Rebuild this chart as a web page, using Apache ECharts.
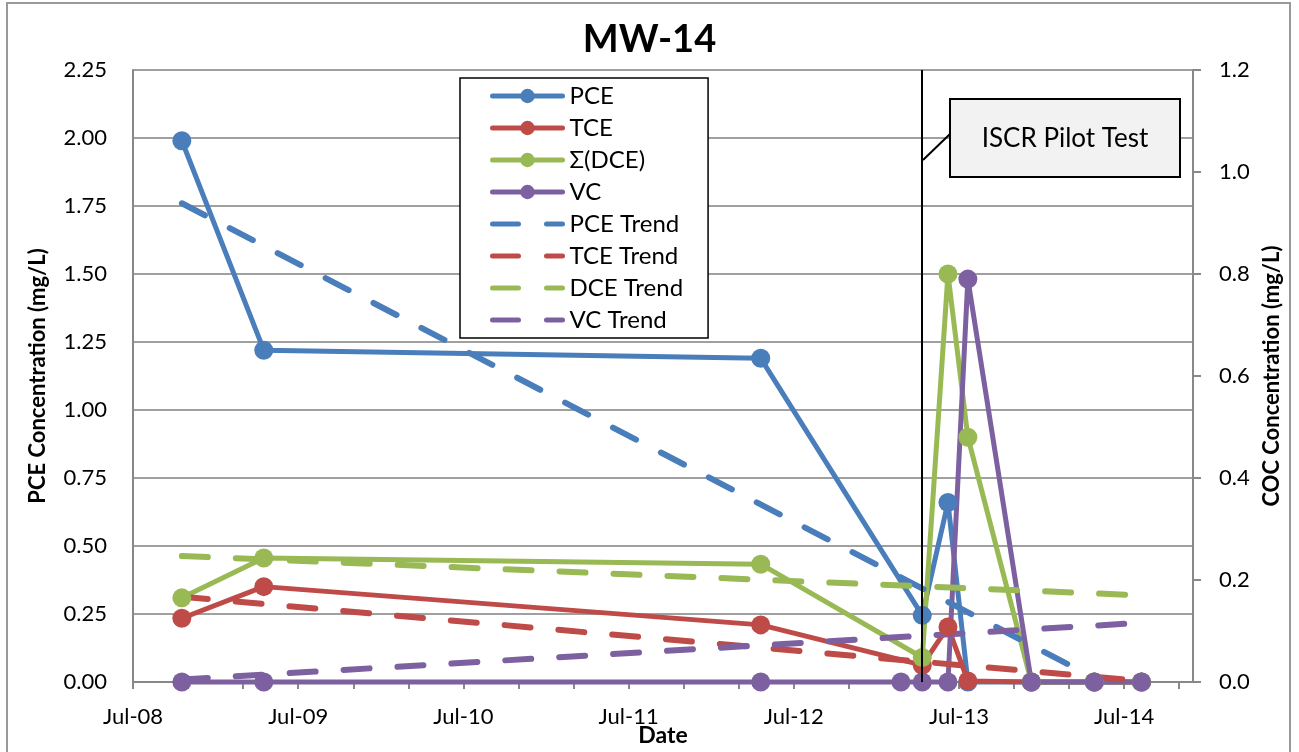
<!DOCTYPE html>
<html>
<head>
<meta charset="utf-8">
<title>MW-14</title>
<script src="https://cdn.jsdelivr.net/npm/echarts@6/dist/echarts.min.js"></script>
<style>
  html, body { margin: 0; padding: 0; background: #fff; }
  #chart { width: 1299px; height: 752px; }
</style>
</head>
<body>
<div id="chart"></div>
<script>
// sampling dates
const sampleDates = ['2008-10-18', '2009-04-16', '2012-04-19', '2013-02-23', '2013-04-11',
  '2013-06-07', '2013-07-21', '2013-12-09', '2014-04-26', '2014-08-09']

// concentrations in mg/L, null = not sampled
const pce = [1.99, 1.22, 1.19, null, 0.245, 0.66, 0, 0, 0, 0]
const tce = [0.125, 0.187, 0.112, null, 0.033, 0.108, 0.002, 0, 0, 0]
const dce = [0.165, 0.243, 0.231, null, 0.048, 0.80, 0.48, 0, 0, 0]
const vc = [0, 0, 0, 0, 0, 0, 0.79, 0, 0, 0]

const trendDates = ['2008-10-18', '2014-08-09']
const pceTrendDates = ['2008-10-18', '2014-05-13']
const pceTrend = [1.76, 0]
const tceTrend = [0.167, 0.002]
const dceTrend = [0.247, 0.17]
const vcTrend = [0.005, 0.116]

const pilotTestDate = '2013-04-11'

// x axis runs Jul-08 .. Dec-14, in months
const xTickLabels = ['Jul-08', 'Jul-09', 'Jul-10', 'Jul-11', 'Jul-12', 'Jul-13', 'Jul-14']
const xMax = 77

const colors = {
  pce: '#4a7ebb',
  tce: '#be4b48',
  dce: '#98b954',
  vc: '#7d60a0'
}
const font = 'Lato'

const toMonths = (s) => {
  const [y, m, d] = s.split('-').map(Number)
  const dim = new Date(Date.UTC(y, m, 0)).getUTCDate()
  return (y - 2008) * 12 + (m - 7) + (d - 1) / dim
}

const pairs = (dates, vals) => dates
  .map((d, i) => [toMonths(d), vals[i]])
  .filter(p => p[1] !== null)

const solid = (name, vals, color, yAxisIndex) => ({
  name,
  type: 'line',
  yAxisIndex,
  data: pairs(sampleDates, vals),
  symbol: 'circle',
  symbolSize: 19,
  clip: false,
  lineStyle: { width: 5, color },
  itemStyle: { color }
})

const trend = (name, dates, vals, color, yAxisIndex) => ({
  name,
  type: 'line',
  yAxisIndex,
  data: pairs(dates, vals),
  symbol: 'none',
  lineStyle: { width: 6, color, type: [26, 28], cap: 'round' },
  itemStyle: { color }
})

const chart = echarts.init(document.getElementById('chart'))

const series = [
  solid('PCE', pce, colors.pce, 0),
  solid('TCE', tce, colors.tce, 1),
  solid('Σ(DCE)', dce, colors.dce, 1),
  solid('VC', vc, colors.vc, 1),
  trend('PCE Trend', pceTrendDates, pceTrend, colors.pce, 0),
  trend('TCE Trend', trendDates, tceTrend, colors.tce, 1),
  trend('DCE Trend', trendDates, dceTrend, colors.dce, 1),
  trend('VC Trend', trendDates, vcTrend, colors.vc, 1)
]

// pilot test start line
series[0].markLine = {
  silent: true,
  symbol: ['none', 'none'],
  label: { show: false },
  lineStyle: { color: '#000', width: 2, type: 'solid' },
  data: [{ xAxis: toMonths(pilotTestDate) }]
}

const legendNames = series.map(s => s.name)

const option = {
  animation: false,
  textStyle: { fontFamily: font },
  title: {
    text: 'MW-14',
    left: 'center',
    top: 16,
    textStyle: { fontFamily: font, fontSize: 38, fontWeight: 'bold', color: '#000' }
  },
  grid: { left: 133, right: 106, top: 70, bottom: 70, outerBoundsMode: 'none' },
  legend: {
    orient: 'vertical',
    left: 460,
    top: 78,
    padding: [6, 25, 6, 30],
    itemWidth: 70,
    itemHeight: 18,
    itemGap: 8,
    borderColor: '#000',
    borderWidth: 1.5,
    backgroundColor: '#fff',
    lineStyle: { width: 5, cap: 'round' },
    textStyle: { fontFamily: font, fontSize: 24, color: '#000', padding: [0, 0, 0, 2] },
    data: legendNames.map((n, i) => i < 4 ? n : { name: n, itemStyle: { opacity: 0 } })
  },
  xAxis: {
    type: 'value',
    min: 0,
    max: xMax,
    interval: 4,
    name: 'Date',
    nameLocation: 'middle',
    nameGap: 42,
    nameMoveOverlap: false,
    nameTextStyle: { fontFamily: font, fontSize: 23, fontWeight: 'bold', color: '#000' },
    axisLine: { lineStyle: { color: '#888', width: 2 } },
    axisTick: { show: true, length: 7, lineStyle: { color: '#888', width: 2 } },
    splitLine: { show: false },
    axisLabel: {
      margin: 24,
      fontFamily: font,
      fontSize: 22,
      color: '#000',
      showMaxLabel: false,
      formatter: v => (v % 12 === 0 ? xTickLabels[v / 12] : '')
    }
  },
  yAxis: [
    {
      type: 'value',
      position: 'left',
      min: 0,
      max: 2.25,
      interval: 0.25,
      name: 'PCE Concentration (mg/L)',
      nameLocation: 'middle',
      nameGap: 84,
      nameTextStyle: { fontFamily: font, fontSize: 22, fontWeight: 'bold', color: '#000' },
      axisLine: { show: true, lineStyle: { color: '#888', width: 2 } },
      axisTick: { show: false },
      splitLine: { lineStyle: { color: '#a0a0a0', width: 2 } },
      axisLabel: {
        margin: 26,
        fontFamily: font,
        fontSize: 22,
        color: '#000',
        formatter: v => v.toFixed(2)
      }
    },
    {
      type: 'value',
      position: 'right',
      min: 0,
      max: 1.2,
      interval: 0.2,
      name: 'COC Concentration (mg/L)',
      nameLocation: 'middle',
      nameGap: 60,
      nameTextStyle: { fontFamily: font, fontSize: 22, fontWeight: 'bold', color: '#000' },
      axisLine: { show: true, lineStyle: { color: '#888', width: 2 } },
      axisTick: { show: true, length: 8, lineStyle: { color: '#888', width: 2 } },
      splitLine: { show: false },
      axisLabel: {
        margin: 26,
        fontFamily: font,
        fontSize: 22,
        color: '#000',
        formatter: v => v.toFixed(1)
      }
    }
  ],
  graphic: [
    {
      type: 'rect',
      shape: { x: 7, y: 3, width: 1283, height: 770 },
      style: { fill: 'none', stroke: '#999', lineWidth: 2 },
      silent: true
    },
    {
      type: 'line',
      shape: { x1: 923, y1: 160, x2: 950, y2: 134 },
      style: { stroke: '#000', lineWidth: 2 },
      z: 100
    },
    {
      type: 'rect',
      shape: { x: 950, y: 99, width: 230, height: 78 },
      style: { fill: '#f2f2f2', stroke: '#000', lineWidth: 2 },
      z: 100
    },
    {
      type: 'text',
      x: 1065,
      y: 139,
      style: {
        text: 'ISCR Pilot Test',
        fontFamily: font,
        fontSize: 26,
        fill: '#000',
        align: 'center',
        verticalAlign: 'middle'
      },
      z: 101
    }
  ],
  series
}

chart.setOption(option)
window.addEventListener('resize', () => chart.resize())
</script>
</body>
</html>
